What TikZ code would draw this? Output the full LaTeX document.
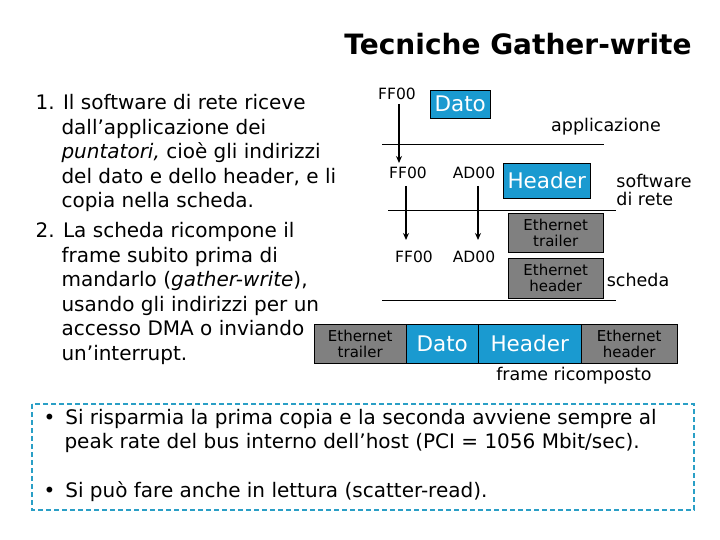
\documentclass[tikz,border=0pt]{standalone}
\usepackage{fontspec}
\setmainfont{DejaVu Sans}
\usetikzlibrary{arrows.meta}
\definecolor{bl}{HTML}{1A9AD0}
\definecolor{gr}{HTML}{808080}
\definecolor{dsh}{HTML}{2A9FC6}
\begin{document}
\begin{tikzpicture}[x=1pt,y=-1pt,
  bbox/.style={draw=black,fill=bl,text=white,inner sep=0pt,anchor=north west,font=\fontsize{21.5}{22}\selectfont},
  gbox/.style={draw=black,fill=gr,text=black,inner sep=0pt,anchor=north west,align=center,font=\fontsize{15}{16}\selectfont},
  lbl/.style={font=\fontsize{15.5}{16}\selectfont},
  lab/.style={font=\fontsize{17.5}{18}\selectfont},
  body/.style={anchor=north west,align=left,font=\fontsize{20}{24.5}\selectfont},
  arr/.style={-{Stealth[length=7pt,width=6pt]},line width=1.2pt}]
\useasboundingbox (0,0) rectangle (720,540);
\node[font=\bfseries\fontsize{28}{30}\selectfont] (title) at (518,44) {Tecniche Gather-write};
\node[body] (t1) at (32,91) {1. Il software di rete riceve\\\hspace{1.3em}dall’applicazione dei\\\hspace{1.3em}\textit{puntatori,} cioè gli indirizzi\\\hspace{1.3em}del dato e dello header, e li\\\hspace{1.3em}copia nella scheda.};
\node[body] (t2) at (32,219) {2. La scheda ricompone il\\\hspace{1.3em}frame subito prima di\\\hspace{1.3em}mandarlo (\textit{gather-write}),\\\hspace{1.3em}usando gli indirizzi per un\\\hspace{1.3em}accesso DMA o inviando\\\hspace{1.3em}un’interrupt.};
% layers
\draw[line width=0.8pt] (382,144) coordinate (l1a) -- (604,144) coordinate (l1b);
\draw[line width=0.8pt] (388,210) coordinate (l2a) -- (616,210) coordinate (l2b);
\draw[line width=0.8pt] (382,300) coordinate (l3a) -- (616,300) coordinate (l3b);
\node[bbox,minimum width=60pt,minimum height=28pt] (dato) at (430,90) {Dato};
\node[bbox,minimum width=87pt,minimum height=35pt] (hdr) at (503,163) {Header};
\node[gbox,minimum width=95pt,minimum height=39pt] (etr) at (508,213) {Ethernet\\trailer};
\node[gbox,minimum width=95pt,minimum height=40pt] (ehd) at (508,258) {Ethernet\\header};
\node[lbl] (f1) at (397,94) {FF00};
\node[lbl] (f2) at (408,173) {FF00};
\node[lbl] (a2) at (474,173) {AD00};
\node[lbl] (f3) at (414,257) {FF00};
\node[lbl] (a3) at (474,257) {AD00};
\draw[arr] (399,104) -- (399,163);
\draw[arr] (406,186) -- (406,240);
\draw[arr] (478,186) -- (478,240);
\node[lab] (app) at (606,127) {applicazione};
\node[lab,align=left] (sw) at (654,190) {software\\di rete};
\node[lab] (sch) at (638,280) {scheda};
% frame
\node[gbox,minimum width=92pt,minimum height=39pt] (b1) at (314,324) {Ethernet\\trailer};
\node[bbox,minimum width=72pt,minimum height=39pt] (b2) at (406,324) {Dato};
\node[bbox,minimum width=103pt,minimum height=39pt] (b3) at (478,324) {Header};
\node[gbox,minimum width=96pt,minimum height=39pt] (b4) at (581,324) {Ethernet\\header};
\node[lab] (fr) at (574,376) {frame ricomposto};
% dashed box
\draw[dsh,line width=2pt,dash pattern=on 5pt off 3pt] (32,404) rectangle (694,510);
\node[anchor=north west,align=left,font=\fontsize{20}{24}\selectfont] (bb1) at (40,406) {•\hspace{0.5em}Si risparmia la prima copia e la seconda avviene sempre al\\\hspace{1.05em}peak rate del bus interno dell’host (PCI = 1056 Mbit/sec).};
\node[anchor=north west,font=\fontsize{20}{24}\selectfont] (bb2) at (40,478) {•\hspace{0.5em}Si può fare anche in lettura (scatter-read).};
\end{tikzpicture}
\end{document}
